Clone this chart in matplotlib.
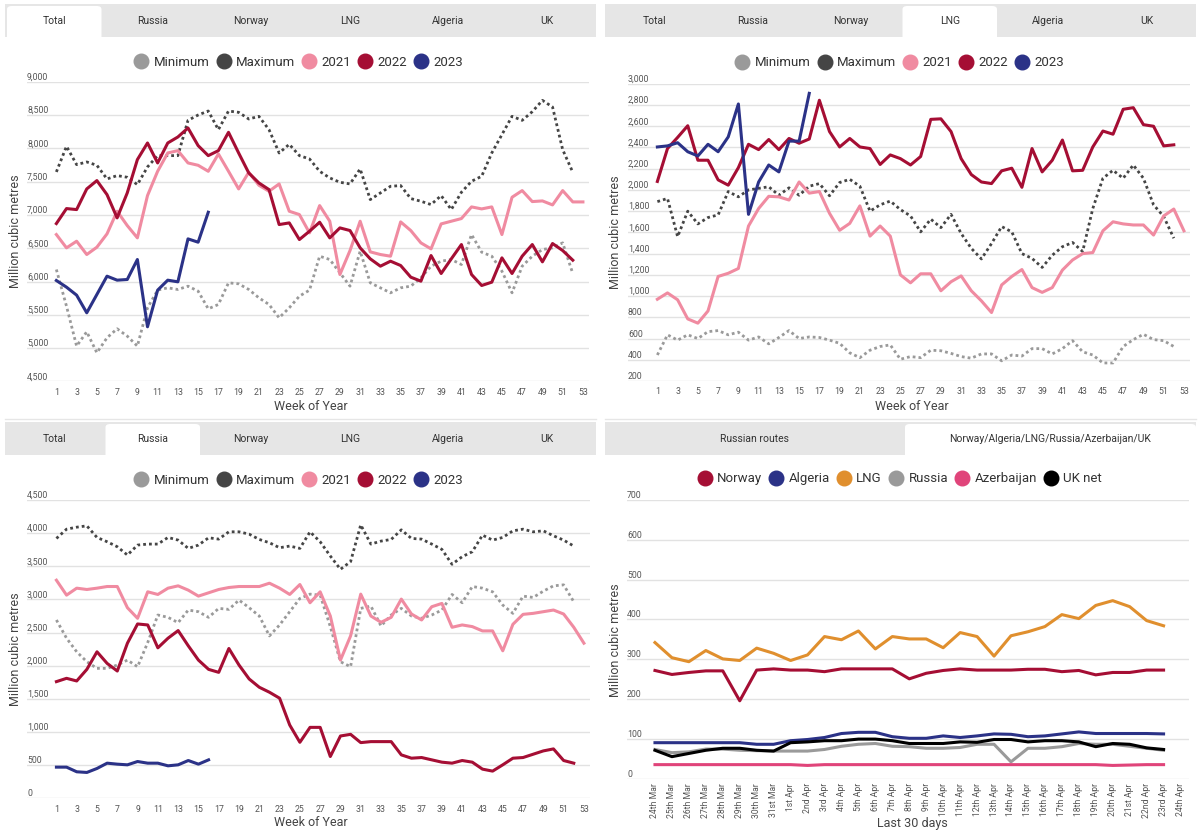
import matplotlib
matplotlib.use('Agg')
import matplotlib.pyplot as plt
from matplotlib.lines import Line2D
from matplotlib.patches import Rectangle, FancyBboxPatch

plt.rcParams['font.family'] = ['Roboto', 'DejaVu Sans']

W, H = 1200, 835

weeks = list(range(1, 54))
week_ticks = list(range(1, 54, 2))

# Total imports, weekly
total_min = [6180, 5630, 5030, 5245, 4930, 5155, 5290, 5180, 5030, 5605,
             5870, 5905, 5880, 5930, 5855, 5590, 5655, 5980, 5965, 5880,
             5755, 5655, 5455, 5605, 5780, 5870, 6380, 6330, 6130, 5930,
             6455, 5980, 5905, 5830, 5905, 5930, 6055, 6230, 6305, 6330,
             6255, 6705, 6440, 6380, 6155, 5830, 6230, 6380, 6480, 6505,
             6580, 6120]
total_max = [7645, 8030, 7755, 7795, 7745, 7540, 7590, 7565, 7455, 7720,
             7890, 7890, 7890, 8420, 8500, 8560, 8280, 8560, 8540, 8440,
             8480, 8280, 7930, 8060, 7890, 7840, 7655, 7555, 7490, 7465,
             7690, 7230, 7330, 7430, 7440, 7245, 7205, 7155, 7290, 7080,
             7340, 7505, 7580, 7930, 8205, 8480, 8420, 8550, 8720, 8620,
             7980, 7640]
total_2021 = [6705, 6505, 6605, 6405, 6515, 6715, 7055, 6840, 6655, 7290,
              7655, 7930, 7965, 7780, 7745, 7655, 7915, 7655, 7390, 7640,
              7445, 7355, 7465, 7055, 7005, 6730, 7140, 6905, 6105, 6465,
              6905, 6445, 6405, 6380, 6895, 6765, 6580, 6490, 6865, 6905,
              6945, 7120, 7090, 7120, 6705, 7265, 7365, 7200, 7210, 7150,
              7365, 7195, 7195]
total_2022 = [6870, 7095, 7080, 7390, 7515, 7305, 6955, 7330, 7830, 8080,
              7780, 8080, 8170, 8305, 8040, 7890, 7965, 8240, 7930, 7630,
              7480, 7380, 6855, 6880, 6630, 6755, 6890, 6655, 6805, 6765,
              6505, 6340, 6230, 6305, 6240, 6065, 6005, 6390, 6120, 6340,
              6555, 6105, 5940, 5990, 6355, 6120, 6380, 6555, 6295, 6570,
              6465, 6320]
total_2023 = [6015, 5915, 5795, 5530, 5805, 6080, 6020, 6030, 6330, 5320,
              5870, 6020, 5995, 6640, 6590, 7040]

# LNG imports, weekly
lng_min = [445, 635, 585, 635, 600, 665, 675, 635, 660, 585,
           615, 550, 610, 675, 600, 615, 610, 585, 555, 465,
           420, 490, 525, 540, 405, 430, 420, 490, 485, 460,
           430, 415, 455, 455, 390, 445, 435, 505, 505, 455,
           505, 580, 475, 445, 370, 370, 525, 590, 640, 590,
           580, 525]
lng_max = [1890, 1920, 1560, 1800, 1680, 1740, 1765, 1985, 1935, 2000,
           2015, 2030, 1950, 2020, 1950, 2035, 2060, 1945, 2070, 2100,
           2035, 1800, 1860, 1895, 1815, 1755, 1605, 1725, 1645, 1770,
           1590, 1450, 1350, 1495, 1655, 1605, 1400, 1355, 1270, 1385,
           1465, 1505, 1420, 1825, 2110, 2185, 2110, 2235, 2110, 1860,
           1750, 1545]
lng_2021 = [970, 1030, 965, 785, 745, 860, 1185, 1215, 1260, 1660,
            1825, 1940, 1935, 1905, 2075, 1970, 1985, 1780, 1620, 1685,
            1850, 1565, 1660, 1565, 1200, 1125, 1210, 1210, 1050, 1135,
            1190, 1050, 955, 845, 1105, 1185, 1250, 1080, 1035, 1080,
            1245, 1340, 1400, 1410, 1615, 1700, 1680, 1670, 1670, 1575,
            1755, 1820, 1615]
lng_2022 = [2080, 2390, 2495, 2605, 2280, 2280, 2095, 2045, 2210, 2430,
            2380, 2475, 2380, 2485, 2440, 2480, 2845, 2550, 2405, 2485,
            2405, 2390, 2240, 2330, 2295, 2235, 2315, 2665, 2670, 2550,
            2295, 2145, 2075, 2060, 2180, 2205, 2025, 2390, 2170, 2280,
            2470, 2180, 2185, 2405, 2555, 2525, 2760, 2775, 2615, 2600,
            2415, 2425]
lng_2023 = [2405, 2415, 2445, 2360, 2320, 2430, 2360, 2500, 2810, 1770,
            2075, 2235, 2170, 2460, 2460, 2910]

# Russian imports, weekly
rus_min = [2690, 2415, 2210, 2060, 1960, 1960, 2010, 2085, 1985, 2350,
           2765, 2730, 2650, 2840, 2815, 2730, 2865, 2850, 2990, 2875,
           2750, 2450, 2615, 2815, 3015, 3080, 3065, 2590, 2060, 1985,
           2865, 2900, 2600, 2765, 2865, 2750, 2715, 2765, 2840, 3075,
           2950, 3195, 3170, 3115, 2915, 2790, 3050, 3030, 3125, 3205,
           3220, 2965]
rus_max = [3920, 4060, 4090, 4110, 3935, 3870, 3795, 3670, 3820, 3835,
           3835, 3935, 3895, 3770, 3820, 3930, 3910, 4020, 4020, 3985,
           3905, 3855, 3780, 3805, 3770, 4020, 3870, 3655, 3455, 3570,
           4125, 3835, 3880, 3905, 4050, 3920, 3910, 3835, 3755, 3530,
           3645, 3720, 3970, 3895, 3935, 4035, 4060, 4020, 4035, 3960,
           3895, 3805]
rus_2021 = [3290, 3065, 3170, 3150, 3170, 3195, 3195, 2875, 2715, 3115,
            3075, 3170, 3205, 3140, 3050, 3100, 3150, 3180, 3195, 3195,
            3195, 3245, 3170, 3075, 3225, 2950, 3115, 2750, 2085, 2450,
            3080, 2750, 2655, 2730, 3005, 2780, 2690, 2890, 2940, 2580,
            2615, 2590, 2525, 2525, 2225, 2625, 2775, 2790, 2815, 2840,
            2780, 2580, 2340]
rus_2022 = [1760, 1810, 1770, 1945, 2210, 2035, 1920, 2340, 2630, 2615,
            2270, 2415, 2530, 2300, 2085, 1945, 1900, 2260, 2010, 1800,
            1675, 1600, 1510, 1105, 845, 1070, 1070, 630, 940, 965,
            840, 855, 855, 855, 655, 605, 615, 580, 545, 530,
            570, 545, 440, 410, 505, 605, 615, 665, 715, 745,
            570, 530]
rus_2023 = [470, 470, 400, 390, 450, 530, 515, 505, 555, 530,
            530, 490, 505, 570, 515, 580]

# last 30 days, daily
days = ['24th Mar', '25th Mar', '26th Mar', '27th Mar', '28th Mar', '29th Mar',
        '30th Mar', '31st Mar', '1st Apr', '2nd Apr', '3rd Apr', '4th Apr',
        '5th Apr', '6th Apr', '7th Apr', '8th Apr', '9th Apr', '10th Apr',
        '11th Apr', '12th Apr', '13th Apr', '14th Apr', '15th Apr', '16th Apr',
        '17th Apr', '18th Apr', '19th Apr', '20th Apr', '21st Apr', '22nd Apr',
        '23rd Apr', '24th Apr']
d_norway = [272, 262, 267, 271, 271, 196, 273, 276,
            273, 273, 269, 276, 276, 276, 276,
            251, 265, 272, 276, 273, 273, 273, 275, 275, 269, 272, 261, 267, 267, 273, 273]
d_algeria = [91, 91, 91, 91, 91, 91, 87, 87,
             96, 99, 104, 114, 117, 117, 106,
             102, 102, 108, 104, 108, 113, 112, 106, 108, 113, 118, 114, 114, 114, 114, 113]
d_lng = [342, 304, 294, 322, 301, 297, 328, 315,
         297, 311, 357, 349, 371, 326, 357,
         351, 351, 329, 367, 357, 308, 359, 369, 382, 412, 402, 435, 447, 432, 397, 384]
d_russia = [74, 66, 68, 75, 75, 72, 71, 70,
            70, 70, 74, 82, 87, 89, 82,
            81, 77, 77, 79, 87, 87, 43, 77, 77, 81, 89, 87, 87, 82, 77, 72]
d_azer = [36, 36, 36, 36, 36, 36, 36, 36,
          36, 34, 36, 36, 36, 36, 36,
          36, 36, 36, 36, 36, 36, 36, 36, 36, 36, 36, 36, 34, 35, 36, 36]
d_uk = [72, 56, 64, 72, 77, 77, 72, 70,
        91, 93, 96, 96, 100, 100, 96,
        89, 89, 89, 93, 92, 99, 99, 93, 96, 96, 93, 81, 89, 87, 78, 74]

week_tabs = ['Total', 'Russia', 'Norway', 'LNG', 'Algeria', 'UK']
route_tabs = ['Russian routes', 'Norway/Algeria/LNG/Russia/Azerbaijan/UK']
year_names = ['Minimum', 'Maximum', '2021', '2022', '2023']
route_names = ['Norway', 'Algeria', 'LNG', 'Russia', 'Azerbaijan', 'UK net']

C_MIN = '#9a9a9a'
C_MAX = '#454545'
C_2021 = '#f08ba1'
C_2022 = '#a50e34'
C_2023 = '#2b3287'
route_colors = ['#a50e34', '#2b3287', '#e08f2e', '#9a9a9a', '#e0447a', '#000000']
year_colors = [C_MIN, C_MAX, C_2021, C_2022, C_2023]

fig = plt.figure(figsize=(W / 100, H / 100), dpi=100)


def px(x, y):
    return x / W, 1 - y / H


def box(x0, y0, x1, y1):
    l, t = px(x0, y0)
    r, b = px(x1, y1)
    return [l, b, r - l, t - b]


def tab_bar(x0, x1, y0, y1, edges, labels, active):
    fig.add_artist(Rectangle(px(x0, y1), (x1 - x0) / W, (y1 - y0) / H,
                             transform=fig.transFigure, facecolor='#e6e6e6',
                             edgecolor='none', zorder=0))
    a0, a1 = edges[active] + 2, edges[active + 1] - 2
    fig.add_artist(FancyBboxPatch(px(a0, y1 + 4), (a1 - a0) / W, (y1 + 2 - y0) / H,
                                  boxstyle='round,pad=0,rounding_size=0.004',
                                  transform=fig.transFigure, facecolor='white',
                                  edgecolor='none', zorder=1))
    for i, lab in enumerate(labels):
        cx = (edges[i] + edges[i + 1]) / 2
        fig.text(*px(cx, (y0 + y1) / 2 + 1), lab, ha='center', va='center',
                 fontsize=7.5, color='#333333', zorder=2)


def legend(ax, names, colors, cx, cy):
    handles = [Line2D([], [], marker='o', ls='none', ms=10.5, color=c) for c in colors]
    ax.legend(handles, names, loc='center', bbox_to_anchor=px(cx, cy),
              bbox_transform=fig.transFigure, ncol=len(names), frameon=False,
              fontsize=9.5, handletextpad=0.45, columnspacing=0.55, handlelength=1.0,
              labelcolor='#333333')


def style_axes(ax, lo, hi, step):
    ax.set_ylim(lo, hi)
    ax.set_yticks(range(lo, hi + 1, step))
    ax.set_yticklabels([])
    ax.grid(axis='y', color='#e2e2e2', lw=1)
    ax.set_axisbelow(True)
    for s in ax.spines.values():
        s.set_visible(False)
    for v in range(lo, hi + 1, step):
        ax.text(0, v, f'{v:,}', transform=ax.get_yaxis_transform(), ha='left',
                va='bottom', fontsize=6.3, color='#555555')


def week_panel(rect, lo, hi, step, mins, maxs, y21, y22, y23):
    ax = fig.add_axes(box(*rect))
    dots = (0, (1, 1.1))
    ax.plot(weeks[:len(mins)], mins, color=C_MIN, lw=2, ls=dots)
    ax.plot(weeks[:len(maxs)], maxs, color=C_MAX, lw=2, ls=dots)
    ax.plot(weeks[:len(y21)], y21, color=C_2021, lw=2.2)
    ax.plot(weeks[:len(y22)], y22, color=C_2022, lw=2.2)
    ax.plot(weeks[:len(y23)], y23, color=C_2023, lw=2.2)
    ax.set_xlim(-1.9, 53.6)
    ax.set_xticks(week_ticks)
    ax.tick_params(length=0, labelsize=6.3, labelcolor='#555555', pad=4.5)
    style_axes(ax, lo, hi, step)
    return ax


edges6 = [5 + 98.5 * i for i in range(7)]
edges6r = [605 + 98.5 * i for i in range(7)]

# top left: Total
tab_bar(5, 596, 4, 37, edges6, week_tabs, 0)
ax1 = week_panel((27, 81.7, 589, 381.4), 4500, 9000, 500,
                 total_min, total_max, total_2021, total_2022, total_2023)
legend(ax1, year_names, year_colors, 299, 62)
fig.text(*px(311, 407), 'Week of Year', ha='center', va='center', fontsize=9, color='#444444')
fig.text(*px(15.5, 231), 'Million cubic metres', ha='center', va='center',
         rotation=90, fontsize=9, color='#444444')

# top right: LNG
tab_bar(605, 1196, 4, 37, edges6r, week_tabs, 3)
ax2 = week_panel((628, 83.8, 1190, 381), 200, 3000, 200,
                 lng_min, lng_max, lng_2021, lng_2022, lng_2023)
legend(ax2, year_names, year_colors, 900, 63)
fig.text(*px(912, 407), 'Week of Year', ha='center', va='center', fontsize=9, color='#444444')
fig.text(*px(615.5, 232), 'Million cubic metres', ha='center', va='center',
         rotation=90, fontsize=9, color='#444444')

# bottom left: Russia
tab_bar(5, 596, 422, 455, edges6, week_tabs, 1)
ax3 = week_panel((27, 500, 590, 798.3), 0, 4500, 500,
                 rus_min, rus_max, rus_2021, rus_2022, rus_2023)
legend(ax3, year_names, year_colors, 299, 480)
fig.text(*px(311, 823), 'Week of Year', ha='center', va='center', fontsize=9, color='#444444')
fig.text(*px(16, 649), 'Million cubic metres', ha='center', va='center',
         rotation=90, fontsize=9, color='#444444')

# bottom right: last 30 days
tab_bar(605, 1196, 422, 455, [605, 903, 1198], route_tabs, 1)
ax4 = fig.add_axes(box(627, 499.7, 1189, 779))
x = list(range(len(d_norway)))
for vals, c in zip([d_norway, d_algeria, d_lng, d_russia, d_azer, d_uk], route_colors):
    ax4.plot(x, vals, color=c, lw=2.2)
ax4.set_xlim(-1.65, 31.5)
ax4.set_xticks(range(len(days)))
ax4.set_xticklabels(days, rotation=90)
ax4.tick_params(length=0, labelsize=6.2, labelcolor='#555555', pad=3)
style_axes(ax4, 0, 700, 100)
legend(ax4, route_names, route_colors, 900, 479)
fig.text(*px(912, 823), 'Last 30 days', ha='center', va='center', fontsize=9, color='#444444')
fig.text(*px(615.5, 640), 'Million cubic metres', ha='center', va='center',
         rotation=90, fontsize=9, color='#444444')

# thin panel separators
for x0, x1 in [(5, 596), (605, 1196)]:
    fig.add_artist(Line2D([x0 / W, x1 / W], [1 - 419 / H, 1 - 419 / H],
                          transform=fig.transFigure, color='#e6e6e6', lw=1))

fig.savefig('out.png', dpi=100)
